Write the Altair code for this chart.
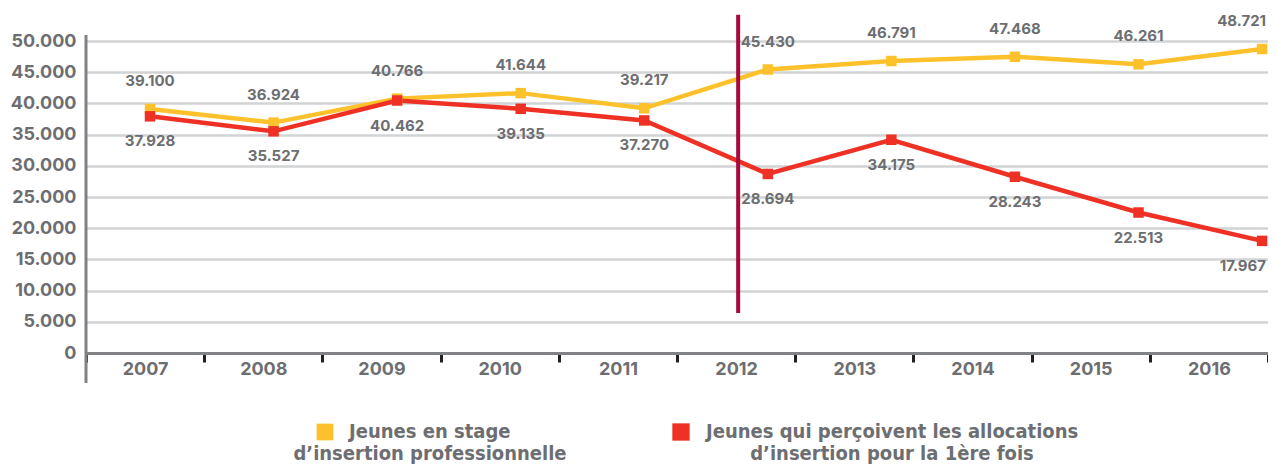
import altair as alt
import pandas as pd

years = [2007, 2008, 2009, 2010, 2011, 2012, 2013, 2014, 2015, 2016]
stage = [39100, 36924, 40766, 41644, 39217, 45430, 46791, 47468, 46261, 48721]
alloc = [37928, 35527, 40462, 39135, 37270, 28694, 34175, 28243, 22513, 17967]
series_names = ["stage", "alloc"]
series_colors = ["#FDC22B", "#EE3124"]
y_ticks = [0, 5000, 10000, 15000, 20000, 25000, 30000, 35000, 40000, 45000, 50000]
marker_year = [2011.76]
marker_top = [54200]
marker_bottom = [6400]
legend_line1 = ["Jeunes en stage", "Jeunes qui perçoivent les allocations"]
legend_line2 = ["d’insertion professionnelle", "d’insertion pour la 1ère fois"]

rows = []
for s, vals in zip(series_names, [stage, alloc]):
    for yr, v in zip(years, vals):
        rows.append({"year": yr, "series": s, "value": v,
                     "label": f"{v:,}".replace(",", ".")})
df = pd.DataFrame(rows)

W, H = 1182, 312
GRAY = "#6d6e71"
AXIS_GRAY = "#808285"
FONT = "Inter"
LEG_FONT = "DejaVu Sans Condensed"

x_scale = alt.Scale(domain=[2006.482, 2016.048], nice=False, zero=False)
y_scale = alt.Scale(domain=[0, 50000], nice=False)
y_axis = alt.Axis(values=y_ticks,
                  labelExpr="replace(format(datum.value, ','), ',', '.')",
                  grid=True, gridColor="#d1d3d4", gridWidth=2.5,
                  domain=False, ticks=False, labelPadding=10,
                  labelFont=FONT, labelFontSize=18, labelFontWeight="bold",
                  labelColor=GRAY)


def Y(field):
    return alt.Y(f"{field}:Q", scale=y_scale, title=None, axis=y_axis)


xq = alt.X("year:Q", scale=x_scale, axis=None)
color = alt.Color("series:N", scale=alt.Scale(domain=series_names, range=series_colors), legend=None)

base = alt.Chart(df)

lines = base.mark_line(strokeWidth=4.5).encode(
    x=xq, y=Y("value"), color=color, detail="series:N",
)

points = base.mark_square(size=110, opacity=1).encode(
    x=xq, y=Y("value"), color=color
)


def labels(series, dy, last):
    cond = f"datum.series == '{series}' && datum.year " + ("== 2016" if last else "< 2016")
    return base.transform_filter(cond).mark_text(
        font=FONT, fontSize=15, fontWeight="bold", color=GRAY, dy=dy,
        align="right" if last else "center", dx=4 if last else 0,
    ).encode(x=xq, y=Y("value"), text="label:N")


band = alt.Chart(pd.DataFrame({"year": years})).mark_bar(opacity=0).encode(
    x=alt.X("year:O", scale=alt.Scale(type="band", paddingInner=0, paddingOuter=0),
            title=None,
            axis=alt.Axis(labelAngle=0, tickBand="extent", domainColor=AXIS_GRAY,
                          domainWidth=3, tickColor="#231f20", tickWidth=3, tickSize=9,
                          labelPadding=-2, labelFont=FONT, labelFontSize=18,
                          labelFontWeight="bold", labelColor=GRAY, grid=False))
)

vline = alt.Chart(pd.DataFrame({"year": marker_year, "top": marker_top,
                                "bottom": marker_bottom})).mark_rule(
    color="#A6093D", strokeWidth=4).encode(
    x=xq, y=Y("top"), y2="bottom:Q")

yaxis_line = alt.Chart(alt.Data(values=[{}])).mark_rule(
    color=AXIS_GRAY, strokeWidth=3).encode(
    x=alt.value(0), y=alt.value(-6), y2=alt.value(342))

one = alt.Data(values=[{}])
LFS = 20
L1, L2 = 391, 413
leg = [
    alt.Chart(one).mark_square(size=280, opacity=1, color=series_colors[0]).encode(
        x=alt.value(239), y=alt.value(L1)),
    alt.Chart(one).mark_square(size=300, opacity=1, color=series_colors[1]).encode(
        x=alt.value(595), y=alt.value(L1)),
    alt.Chart(one).mark_text(font=LEG_FONT, fontSize=LFS, fontWeight="bold", color=GRAY,
                             align="left", baseline="middle").encode(
        x=alt.value(263), y=alt.value(L1), text=alt.value(legend_line1[0])),
    alt.Chart(one).mark_text(font=LEG_FONT, fontSize=LFS, fontWeight="bold", color=GRAY,
                             align="center", baseline="middle").encode(
        x=alt.value(344), y=alt.value(L2), text=alt.value(legend_line2[0])),
    alt.Chart(one).mark_text(font=LEG_FONT, fontSize=LFS, fontWeight="bold", color=GRAY,
                             align="left", baseline="middle").encode(
        x=alt.value(620), y=alt.value(L1), text=alt.value(legend_line1[1])),
    alt.Chart(one).mark_text(font=LEG_FONT, fontSize=LFS, fontWeight="bold", color=GRAY,
                             align="center", baseline="middle").encode(
        x=alt.value(806), y=alt.value(L2), text=alt.value(legend_line2[1])),
]

chart = alt.layer(
    band, lines, points,
    labels("stage", -28, False), labels("stage", -28, True),
    labels("alloc", 25, False), labels("alloc", 25, True),
    vline, yaxis_line, *leg,
).resolve_scale(x="independent").properties(
    width=W, height=H,
    autosize=alt.AutoSizeParams(type="none"),
    padding={"left": 78, "top": 33, "right": 0, "bottom": 115},
).configure_view(stroke=None)

chart.save("out.html", embed_options={"renderer": "svg", "actions": False})
